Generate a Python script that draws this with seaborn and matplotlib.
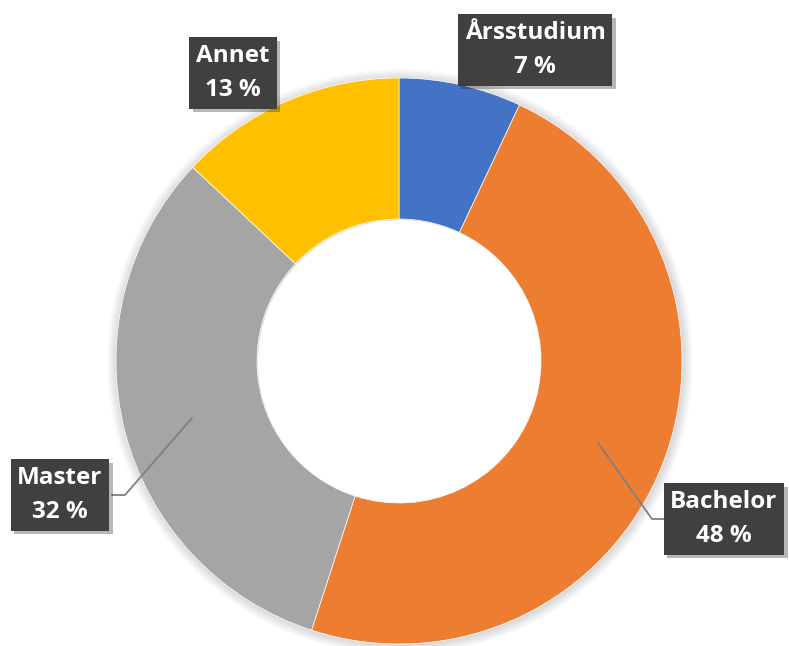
import matplotlib
matplotlib.use("Agg")
import matplotlib.pyplot as plt
import matplotlib.patheffects as pe
import seaborn as sns

# Data
labels = ["Årsstudium", "Bachelor", "Master", "Annet"]
shares = [7, 48, 32, 13]
colors = ["#4472C4", "#ED7D31", "#A5A5A5", "#FFC000"]

sns.set_theme(style="white")
plt.rcParams["font.family"] = ["Open Sans", "DejaVu Sans"]

fig = plt.figure(figsize=(7.89, 6.46), dpi=100)
ax = fig.add_axes([0, 0, 1, 1])

cx, cy, r, w = 399, 285, 283, 141

# soft shadow around the ring
for k in range(1, 7):
    ax.pie([1], colors=["black"], center=(cx + 1, cy - 1), radius=r + k * 1.6,
           wedgeprops=dict(width=w + k * 1.6, alpha=0.025, linewidth=0))

wedges, _ = ax.pie(shares, colors=sns.color_palette(colors), center=(cx, cy),
                   radius=r, startangle=90, counterclock=False,
                   wedgeprops=dict(width=w, edgecolor="white", linewidth=0.5))

# Label boxes
label_pos = [(535, 596), (724, 127), (60, 151), (233, 573)]
for lab, val, (x, y) in zip(labels, shares, label_pos):
    t = ax.text(x, y, f"{lab}\n{val} %", ha="center", va="center",
                fontsize=17.5, fontweight="bold", color="white", linespacing=1.55,
                bbox=dict(boxstyle="square,pad=0.28", facecolor="#404040",
                          edgecolor="none"))
    t.get_bbox_patch().set_path_effects(
        [pe.SimplePatchShadow(offset=(2.5, -2.5), alpha=0.3), pe.Normal()])

# Leader lines
ax.plot([598, 652, 665], [203, 127, 127], color="#7F7F7F", lw=1.3)
ax.plot([192, 125, 112], [228, 151, 151], color="#7F7F7F", lw=1.3)

ax.set_xlim(0, 789)
ax.set_ylim(0, 646)
ax.set_aspect("equal")
ax.axis("off")

fig.savefig("out.png", dpi=100, facecolor="white")
